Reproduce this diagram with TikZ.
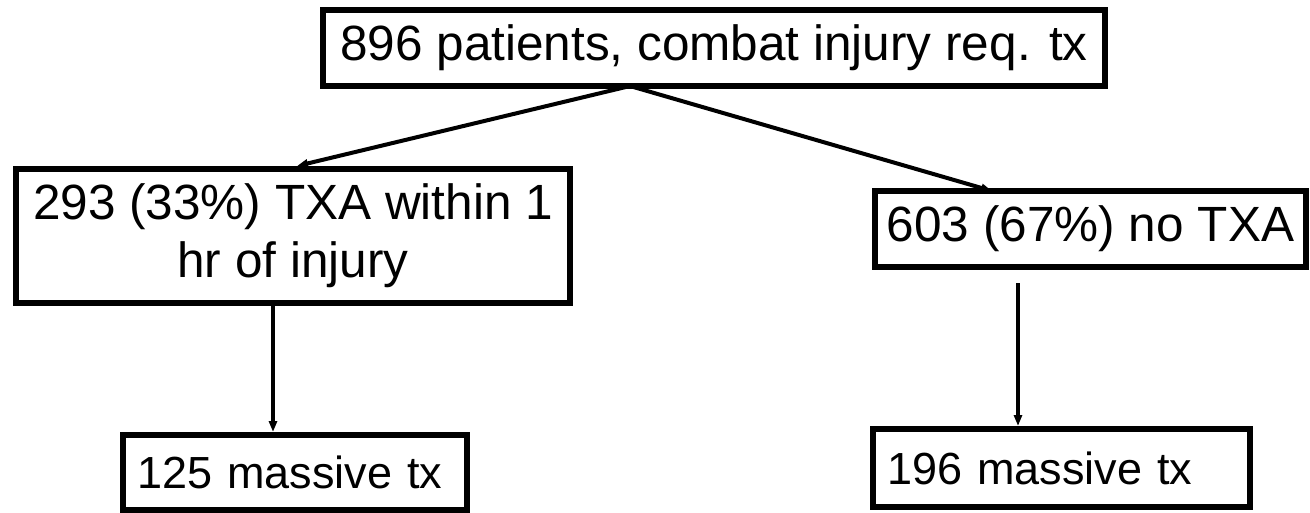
\documentclass[tikz,border=0pt]{standalone}
\usepackage{fontspec}
\setmainfont{Liberation Sans}
\usetikzlibrary{arrows.meta}
\begin{document}
\begin{tikzpicture}[x=1pt,y=1pt,
  box/.style={draw=black,line width=6pt,fill=white,inner sep=0pt,align=center,
    font=\fontsize{49.5}{58}\selectfont},
  lbox/.style={draw=black,line width=6pt,fill=white,inner ysep=0pt,inner xsep=14pt,align=left,
    font=\fontsize{45}{54}\selectfont},
  conn/.style={line width=4pt,-{Triangle[length=11pt,width=8pt]}}]
\useasboundingbox (0,0) rectangle (1310,-512);
\node[box,minimum width=782pt,minimum height=76pt] (top) at (714,-48) {896 patients, combat injury req. tx};
\node[box,minimum width=554pt,minimum height=134pt] (L) at (293,-236) {293 (33\%) TXA within 1\\hr of injury};
\node[box,minimum width=431pt,minimum height=76pt] (R) at (1090.5,-229) {603 (67\%) no TXA};
\node[lbox,text width=316pt,minimum height=75pt] (BL) at (295,-472.5) {125 massive tx};
\node[lbox,text width=349pt,minimum height=78pt] (BR) at (1061.5,-468) {196 massive tx};
\coordinate (tc) at (630,-86);
\coordinate (la) at (297,-166);
\coordinate (ra) at (992,-191);
\coordinate (rs) at (1018,-283);
\draw[conn] (tc) -- (la);
\draw[conn] (tc) -- (ra);
\draw[conn] (L.south -| 273,0) -- (BL.north -| 273,0);
\draw[conn] (rs) -- (BR.north -| rs);
\end{tikzpicture}
\end{document}
